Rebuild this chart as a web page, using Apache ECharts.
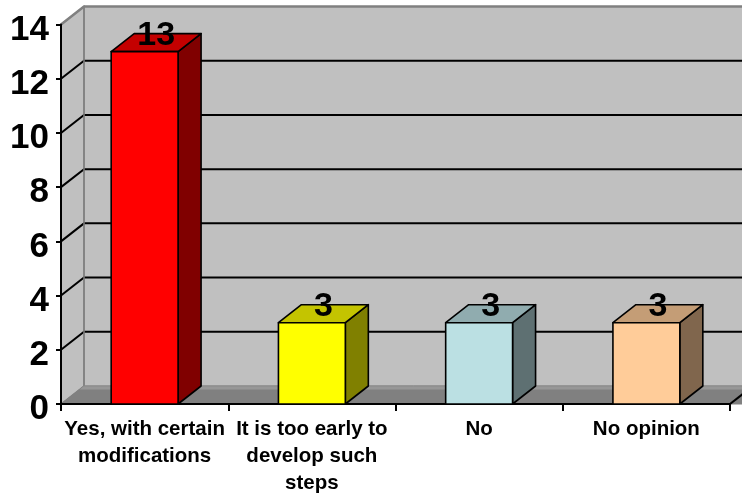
<!DOCTYPE html>
<html>
<head>
<meta charset="utf-8">
<script src="https://cdn.jsdelivr.net/npm/echarts@6/dist/echarts.min.js"></script>
<style>
  html, body { margin: 0; padding: 0; background: #ffffff; }
  #chart { width: 742px; height: 497px; }
</style>
</head>
<body>
<div id="chart"></div>
<script>
// Survey answers and counts
const categories = [
  'Yes, with certain\nmodifications',
  'It is too early to\ndevelop such\nsteps',
  'No',
  'No opinion'
];
const counts = [13, 3, 3, 3];
const yTicks = [0, 2, 4, 6, 8, 10, 12, 14];

// Appearance
const faceColors = ['#FF0000', '#FFFF00', '#BBE0E3', '#FFCC99'];
const DEPTH_X = 23;     // horizontal shift of the back plane
const DEPTH_Y = -18;    // vertical shift of the back plane
const BAR_RATIO = 0.4;  // bar width as a share of the category band
const FONT = '"Liberation Sans", Arial, Helvetica, sans-serif';

function shade(hex, k) {
  const n = parseInt(hex.slice(1), 16);
  const r = Math.round(((n >> 16) & 255) * k);
  const g = Math.round(((n >> 8) & 255) * k);
  const b = Math.round((n & 255) * k);
  return 'rgb(' + r + ',' + g + ',' + b + ')';
}

// Side wall, back wall, floor and the wall gridlines
function renderWalls(params, api) {
  const cs = params.coordSys;
  const left = cs.x, right = cs.x + cs.width;
  const top = api.coord([0, yTicks[yTicks.length - 1]])[1];
  const bottom = api.coord([0, yTicks[0]])[1];
  const dx = DEPTH_X, dy = DEPTH_Y;
  const far = right + dx + 30;
  const children = [];

  // back wall
  children.push({
    type: 'rect',
    shape: { x: left + dx, y: top + dy, width: far - left - dx, height: bottom - top },
    style: { fill: '#C0C0C0' }
  });
  // side wall
  children.push({
    type: 'polygon',
    shape: { points: [[left, bottom], [left, top], [left + dx, top + dy], [left + dx, bottom + dy]] },
    style: { fill: '#C0C0C0', stroke: '#808080', lineWidth: 1.5 }
  });
  // floor
  children.push({
    type: 'polygon',
    shape: { points: [[left, bottom], [left + dx, bottom + dy], [far, bottom + dy], [far - dx, bottom]] },
    style: { fill: '#808080', stroke: '#808080', lineWidth: 1 }
  });
  // lighter strip at the foot of the back wall
  const t = 3.5;
  children.push({
    type: 'polygon',
    shape: { points: [[left + dx, bottom + dy], [far, bottom + dy], [far, bottom + dy + t], [left + dx - dx * t / -dy, bottom + dy + t]] },
    style: { fill: '#979797' }
  });
  // gridlines on both walls
  for (let i = 1; i < yTicks.length - 1; i++) {
    const y = api.coord([0, yTicks[i]])[1];
    children.push({
      type: 'polyline',
      shape: { points: [[left, y], [left + dx, y + dy], [far, y + dy]] },
      style: { stroke: '#000000', lineWidth: 2, fill: null }
    });
  }
  // wall edges
  children.push({
    type: 'polyline',
    shape: { points: [[left, top], [left + dx, top + dy], [far, top + dy]] },
    style: { stroke: '#808080', lineWidth: 2.5, fill: null }
  });
  children.push({
    type: 'line',
    shape: { x1: left + dx, y1: top + dy, x2: left + dx, y2: bottom + dy },
    style: { stroke: '#808080', lineWidth: 1.5 }
  });
  children.push({
    type: 'line',
    shape: { x1: left + dx, y1: bottom + dy, x2: far, y2: bottom + dy },
    style: { stroke: '#8a8a8a', lineWidth: 1 }
  });
  // right edge of the floor
  children.push({
    type: 'line',
    shape: { x1: right, y1: bottom, x2: right + dx, y2: bottom + dy },
    style: { stroke: '#000000', lineWidth: 2 }
  });
  return { type: 'group', children: children };
}

// 3D box for each answer with its count above
function renderBar(params, api) {
  const idx = api.value(0);
  const v = api.value(1);
  const base = api.coord([idx, 0]);
  const head = api.coord([idx, v]);
  const w = api.size([1, 0])[0] * BAR_RATIO;
  const x0 = base[0] - w / 2, x1 = base[0] + w / 2;
  const yb = base[1], yt = head[1];
  const dx = DEPTH_X, dy = DEPTH_Y;
  const c = faceColors[params.dataIndex % faceColors.length];
  const edge = { stroke: '#000000', lineWidth: 1.6, lineJoin: 'round' };
  return {
    type: 'group',
    children: [
      {
        type: 'polygon',
        shape: { points: [[x1, yt], [x1 + dx, yt + dy], [x1 + dx, yb + dy], [x1, yb]] },
        style: Object.assign({ fill: shade(c, 0.5) }, edge)
      },
      {
        type: 'polygon',
        shape: { points: [[x0, yt], [x1, yt], [x1 + dx, yt + dy], [x0 + dx, yt + dy]] },
        style: Object.assign({ fill: shade(c, 0.77) }, edge)
      },
      {
        type: 'rect',
        shape: { x: x0, y: yt, width: x1 - x0, height: yb - yt },
        style: Object.assign({ fill: c }, edge)
      },
      {
        type: 'text',
        x: base[0] + dx / 2,
        y: yt + dy + 2,
        style: {
          text: String(v),
          align: 'center',
          verticalAlign: 'middle',
          fill: '#000000',
          font: 'bold 34px ' + FONT
        }
      }
    ]
  };
}

const chart = echarts.init(document.getElementById('chart'), null, { renderer: 'canvas' });
chart.setOption({
  backgroundColor: '#ffffff',
  animation: false,
  grid: { left: 61, right: 12, top: 24.5, bottom: 91, containLabel: false },
  xAxis: {
    type: 'category',
    data: categories,
    z: 6,
    boundaryGap: true,
    axisLine: { show: true, lineStyle: { color: '#000000', width: 2 } },
    axisTick: { show: true, length: 7, alignWithLabel: false, interval: 0, lineStyle: { color: '#000000', width: 2 } },
    axisLabel: {
      interval: 0,
      margin: 12,
      color: '#000000',
      fontFamily: FONT,
      fontWeight: 'bold',
      fontSize: 20.5,
      lineHeight: 27
    },
    splitLine: { show: false }
  },
  yAxis: {
    type: 'value',
    min: yTicks[0],
    max: yTicks[yTicks.length - 1],
    interval: yTicks[1] - yTicks[0],
    z: 6,
    axisLine: { show: true, lineStyle: { color: '#000000', width: 2 } },
    axisTick: { show: true, length: 5, lineStyle: { color: '#000000', width: 2 } },
    axisLabel: {
      margin: 12,
      verticalAlign: 'top',
      lineHeight: 11,
      color: '#000000',
      fontFamily: FONT,
      fontWeight: 'bold',
      fontSize: 35
    },
    splitLine: { show: false }
  },
  series: [
    {
      type: 'custom',
      name: 'walls',
      z: 1,
      silent: true,
      clip: false,
      renderItem: renderWalls,
      data: [[0, 0]]
    },
    {
      type: 'custom',
      name: 'answers',
      z: 8,
      clip: false,
      renderItem: renderBar,
      data: counts.map(function (v, i) { return [i, v]; })
    }
  ]
});
</script>
</body>
</html>
